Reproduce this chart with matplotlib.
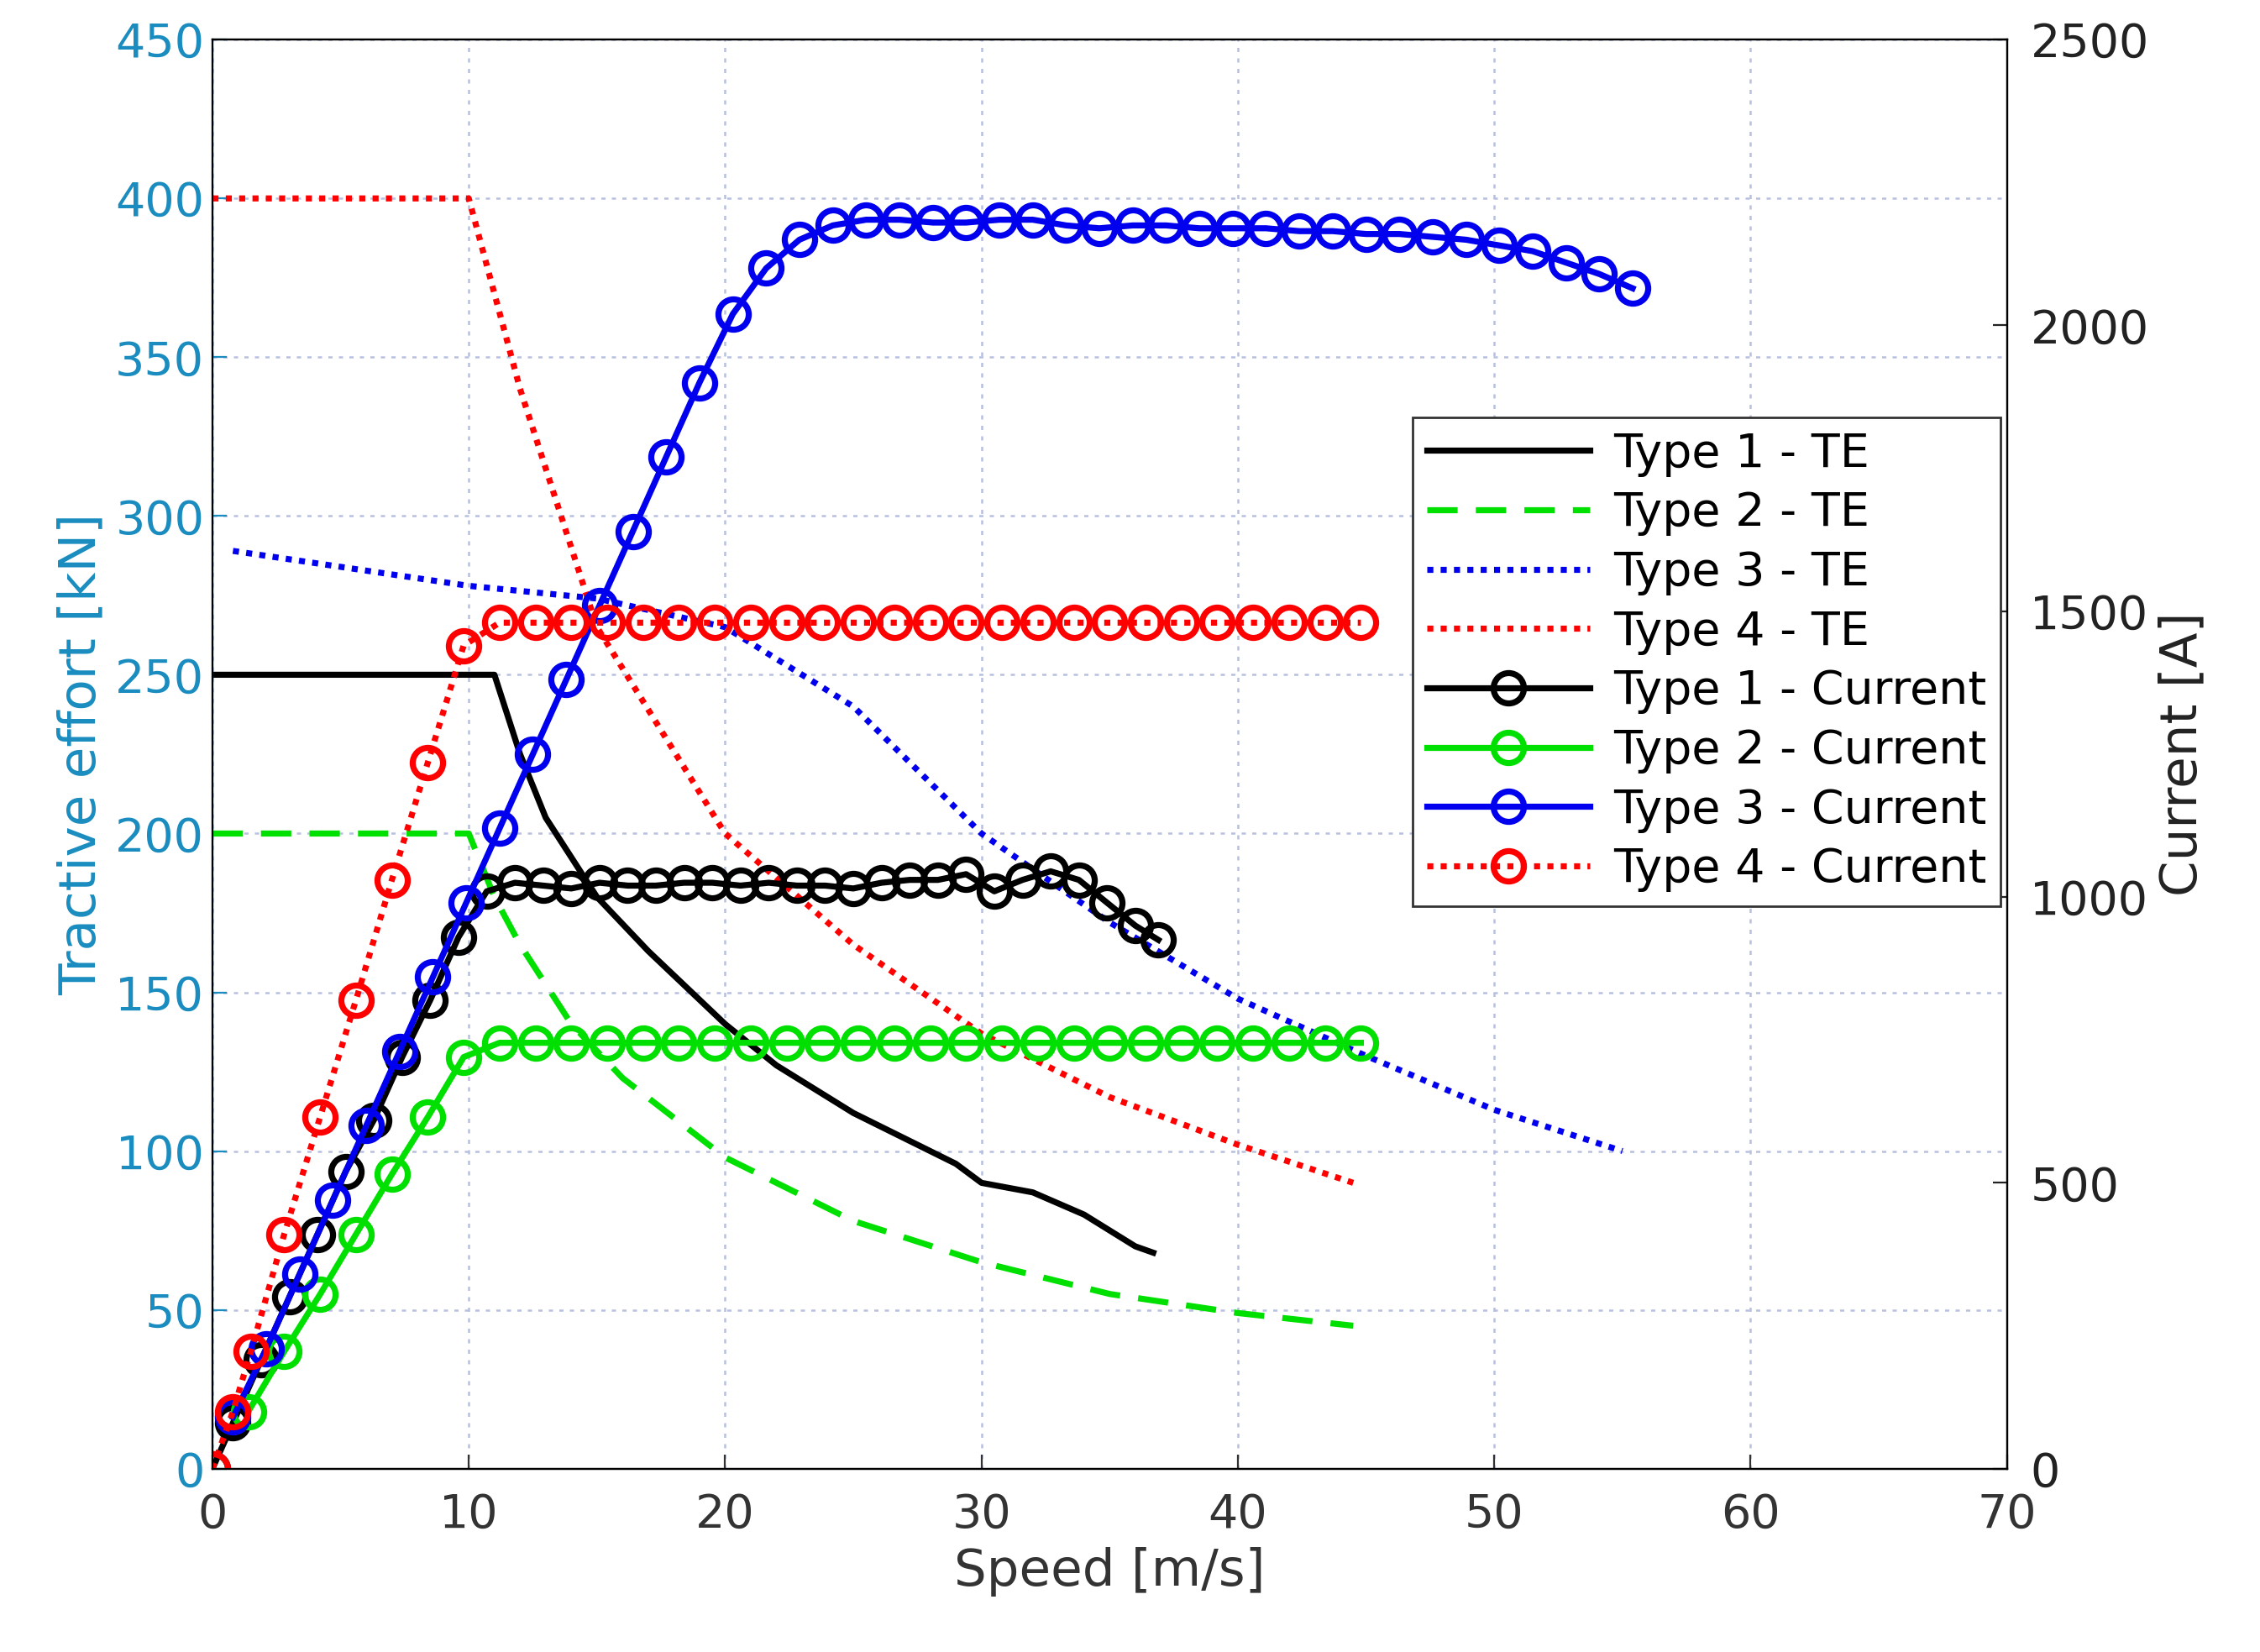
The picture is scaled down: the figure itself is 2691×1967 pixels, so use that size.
import matplotlib
matplotlib.use("Agg")
import matplotlib.pyplot as plt

# Tractive effort curves (kN)
t1_x = [0, 11, 12, 13, 15, 17, 20, 22, 25, 28, 29, 30, 32, 34, 36, 36.7]
t1_y = [250, 250, 225, 205, 180, 163, 140, 127, 112, 100, 96, 90, 87, 80, 70, 68]
t2_x = [0, 10, 11, 12, 14, 16, 20, 25, 30, 35, 40, 44.5]
t2_y = [200, 200, 180, 165, 140, 123, 98, 78, 65, 55, 49, 45]
t3_x = [0.8, 10, 15, 20, 25, 30, 35, 40, 45, 50, 55]
t3_y = [289, 278, 274, 265, 240, 200, 172, 148, 130, 113, 100]
t4_x = [0, 10, 12, 15, 20, 25, 30, 35, 40, 44.5]
t4_y = [400, 400, 340, 265, 200, 165, 137, 117, 102, 90]

# Current curves (A)
c1_x = [0, 0.8, 1.9, 3.0, 4.1, 5.2, 6.3, 7.4, 8.5, 9.6, 10.7, 11.8, 12.9, 14.0, 15.1, 16.2, 17.3,
        18.4, 19.5, 20.6, 21.7, 22.8, 23.9, 25.0, 26.1, 27.2, 28.3, 29.4, 30.5, 31.6,
        32.7, 33.8, 34.9, 36.0, 36.9]
c1_y = [0, 80, 190, 300, 410, 520, 610, 720, 820, 930, 1010, 1025, 1020, 1015, 1025, 1020, 1020,
        1025, 1025, 1020, 1025, 1020, 1020, 1015, 1025, 1030, 1030, 1040, 1010, 1030,
        1045, 1030, 990, 950, 925]
c2_x = [1.4, 2.8, 4.2, 5.6, 7.0, 8.4, 9.8, 11.2, 12.6, 14.0, 15.4, 16.8, 18.2, 19.6, 21.0,
        22.4, 23.8, 25.2, 26.6, 28.0, 29.4, 30.8, 32.2, 33.6, 35.0, 36.4, 37.8, 39.2,
        40.6, 42.0, 43.4, 44.8]
c2_y = [100, 205, 305, 410, 515, 615, 720, 745, 745, 745, 745, 745, 745, 745, 745,
        745, 745, 745, 745, 745, 745, 745, 745, 745, 745, 745, 745, 745,
        745, 745, 745, 745]
c3_x = [0.8, 2.1, 3.4, 4.7, 6.0, 7.3, 8.6, 9.9, 11.2, 12.5, 13.8, 15.1, 16.4, 17.7, 19.0,
        20.3, 21.6, 22.9, 24.2, 25.5, 26.8, 28.1, 29.4, 30.7, 32.0, 33.3, 34.6, 35.9,
        37.2, 38.5, 39.8, 41.1, 42.4, 43.7, 45.0, 46.3, 47.6, 48.9, 50.2, 51.5, 52.8,
        54.1, 55.4]
c3_y = [90, 210, 340, 470, 600, 730, 860, 990, 1120, 1250, 1380, 1510, 1640, 1770, 1900,
        2020, 2100, 2150, 2175, 2185, 2185, 2180, 2180, 2185, 2185, 2175, 2170, 2175,
        2175, 2170, 2170, 2170, 2165, 2165, 2160, 2160, 2155, 2150, 2140, 2130, 2110,
        2090, 2065]
c4_x = [0, 0.8, 1.5, 2.8, 4.2, 5.6, 7.0, 8.4, 9.8, 11.2, 12.6, 14.0, 15.4, 16.8, 18.2,
        19.6, 21.0, 22.4, 23.8, 25.2, 26.6, 28.0, 29.4, 30.8, 32.2, 33.6, 35.0, 36.4,
        37.8, 39.2, 40.6, 42.0, 43.4, 44.8]
c4_y = [0, 100, 205, 410, 615, 820, 1030, 1235, 1440, 1480, 1480, 1480, 1480, 1480, 1480,
        1480, 1480, 1480, 1480, 1480, 1480, 1480, 1480, 1480, 1480, 1480, 1480, 1480,
        1480, 1480, 1480, 1480, 1480, 1480]

labels = ["Type 1 - TE", "Type 2 - TE", "Type 3 - TE", "Type 4 - TE",
          "Type 1 - Current", "Type 2 - Current", "Type 3 - Current", "Type 4 - Current"]

BLACK, GREEN, BLUE, RED = "#000000", "#00e000", "#0000ee", "#ff0000"
TEAL = "#1a8cbf"
FS = 20
lw = 2.6
ms = 13
mew = 2.6

fig = plt.figure(figsize=(13.455, 9.835), dpi=200)
ax = fig.add_axes([0.094, 0.111, 0.794, 0.865])
ax2 = ax.twinx()

h = []
h += ax.plot(t1_x, t1_y, color=BLACK, lw=lw, ls="-")
h += ax.plot(t2_x, t2_y, color=GREEN, lw=lw, ls=(0, (5, 3)))
h += ax.plot(t3_x, t3_y, color=BLUE, lw=lw, ls=(0, (1, 1.2)))
h += ax.plot(t4_x, t4_y, color=RED, lw=lw, ls=(0, (1, 1.2)))
kw = dict(marker="o", ms=ms, mfc="none", mew=mew, lw=lw)
h += ax2.plot(c1_x, c1_y, color=BLACK, ls="-", **kw)
h += ax2.plot(c2_x, c2_y, color=GREEN, ls="-", **kw)
h += ax2.plot(c3_x, c3_y, color=BLUE, ls="-", **kw)
h += ax2.plot(c4_x, c4_y, color=RED, ls=(0, (1, 1.2)), **kw)

ax.set_xlim(0, 70)
ax.set_ylim(0, 450)
ax2.set_ylim(0, 2500)
ax.set_xticks(range(0, 71, 10))
ax.set_yticks(range(0, 451, 50))
ax2.set_yticks(range(0, 2501, 500))
ax.grid(True, color="#b8c0e0", ls=(0, (2, 3)), lw=0.9)
ax.tick_params(axis="x", labelsize=FS, colors="#333333", direction="in", length=6, pad=10)
ax.tick_params(axis="y", labelsize=FS, colors=TEAL, direction="in", length=6)
ax2.tick_params(axis="y", labelsize=FS, colors="#222222", direction="in", length=6, pad=10)
ax.spines["left"].set_color(TEAL)
ax.set_xlabel("Speed [m/s]", fontsize=FS + 2, color="#333333", labelpad=4)
ax.set_ylabel("Tractive effort [kN]", fontsize=FS + 2, color=TEAL)
ax2.set_ylabel("Current [A]", fontsize=FS + 2, color="#222222")

leg = ax2.legend(h, labels, loc="upper left", bbox_to_anchor=(0.656, 0.752), fontsize=FS,
                 frameon=True, fancybox=False, edgecolor="#333333", framealpha=1,
                 handlelength=3.5, borderpad=0.3, labelspacing=0.3, handletextpad=0.5)
leg.get_frame().set_linewidth(1.0)

fig.savefig("out.png", dpi=200)
